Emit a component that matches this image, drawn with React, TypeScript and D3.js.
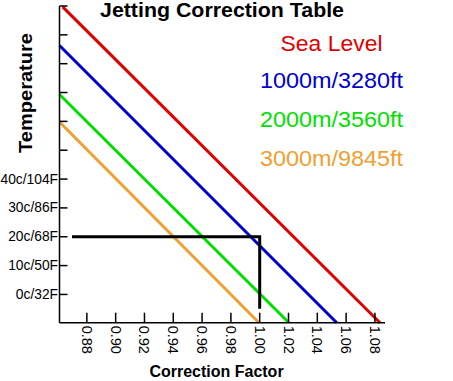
import React from "react";
import * as d3 from "d3";

const W = 453;
const H = 381;

const seriesNames = ["Sea Level", "1000m/3280ft", "2000m/3560ft", "3000m/9845ft"];
const seriesColors = ["#e00000", "#0000d0", "#00e000", "#f0a030"];
// each series: [factor, tempC] endpoints
const seaLevel: [number, number][] = [[0.8632, 99.7], [1.0835, -9.8]];
const alt1000: [number, number][] = [[0.861, 86.3], [1.0535, -9.8]];
const alt2000: [number, number][] = [[0.861, 69.3], [1.0203, -9.8]];
const alt3000: [number, number][] = [[0.861, 59.8], [0.9995, -9.8]];
const seriesData = [seaLevel, alt1000, alt2000, alt3000];

const guide: [number, number][] = [[0.8697, 20], [1.0, 20], [1.0, -5]];

const xTicks = [0.88, 0.9, 0.92, 0.94, 0.96, 0.98, 1.0, 1.02, 1.04, 1.06, 1.08];
const yTicks = [0, 10, 20, 30, 40, 50, 60, 70, 80, 90, 100];
const yTickLabels: Record<number, string> = {
  0: "0c/32F",
  10: "10c/50F",
  20: "20c/68F",
  30: "30c/86F",
  40: "40c/104F",
};

export default function App() {
  const x = d3.scaleLinear().domain([0.861, 1.087]).range([59.5, 385]);
  const y = d3.scaleLinear().domain([-9.8, 100]).range([322.7, 6]);
  const line = d3
    .line<[number, number]>()
    .x((d) => x(d[0]))
    .y((d) => y(d[1]));
  const font = "Arial, 'Liberation Sans', Helvetica, sans-serif";
  const legendBaselines = [51, 87.5, 126.5, 165.5];
  const legendWidths = [102, 143, 143, 143];

  return (
    <svg
      width={W}
      height={H}
      style={{ position: "absolute", left: 0, top: 0, background: "#fff" }}
      fontFamily={font}
    >
      <rect x={0} y={0} width={W} height={H} fill="#fff" />
      {/* series lines */}
      {seriesData.map((s, i) => (
        <path key={i} d={line(s) || ""} fill="none" stroke={seriesColors[i]} strokeWidth={3} />
      ))}
      {/* guide */}
      <path d={line(guide) || ""} fill="none" stroke="#000" strokeWidth={3} />
      {/* axes */}
      <line x1={x.range()[0]} x2={x.range()[0]} y1={y.range()[1]} y2={y.range()[0]} stroke="#000" strokeWidth={1.5} />
      <line x1={x.range()[0]} x2={x.range()[1]} y1={y.range()[0]} y2={y.range()[0]} stroke="#000" strokeWidth={1.5} />
      {yTicks.map((t) => (
        <g key={t}>
          <line x1={x.range()[0]} x2={x.range()[0] + 8} y1={y(t)} y2={y(t)} stroke="#000" strokeWidth={1.5} />
          {yTickLabels[t] && (
            <text x={58} y={y(t)} textAnchor="end" dominantBaseline="central" fontSize={13.8} fill="#000">
              {yTickLabels[t]}
            </text>
          )}
        </g>
      ))}
      {xTicks.map((t) => (
        <g key={t}>
          <line x1={x(t)} x2={x(t)} y1={y.range()[0]} y2={y.range()[0] - 10} stroke="#000" strokeWidth={1.5} />
          <text
            transform={`translate(${x(t)},${y.range()[0] + 3}) rotate(90)`}
            textAnchor="start"
            dominantBaseline="central"
            fontSize={14.5}
            fill="#000"
          >
            {t.toFixed(2)}
          </text>
        </g>
      ))}
      {/* titles */}
      <text x={222} y={17} textAnchor="middle" fontSize={20} fontWeight="bold" textLength={244} lengthAdjust="spacingAndGlyphs">
        Jetting Correction Table
      </text>
      <text x={216.5} y={377} textAnchor="middle" fontSize={16} fontWeight="bold">
        Correction Factor
      </text>
      <text
        transform="translate(32,93) rotate(-90)"
        textAnchor="middle"
        fontSize={18}
        fontWeight="bold"
        textLength={120}
        lengthAdjust="spacingAndGlyphs"
      >
        Temperature
      </text>
      {/* legend */}
      {seriesNames.map((n, i) => (
        <text
          key={n}
          x={331.5}
          y={legendBaselines[i]}
          textAnchor="middle"
          fontSize={21.5}
          fill={seriesColors[i]}
          textLength={legendWidths[i]}
          lengthAdjust="spacingAndGlyphs"
        >
          {n}
        </text>
      ))}
    </svg>
  );
}
